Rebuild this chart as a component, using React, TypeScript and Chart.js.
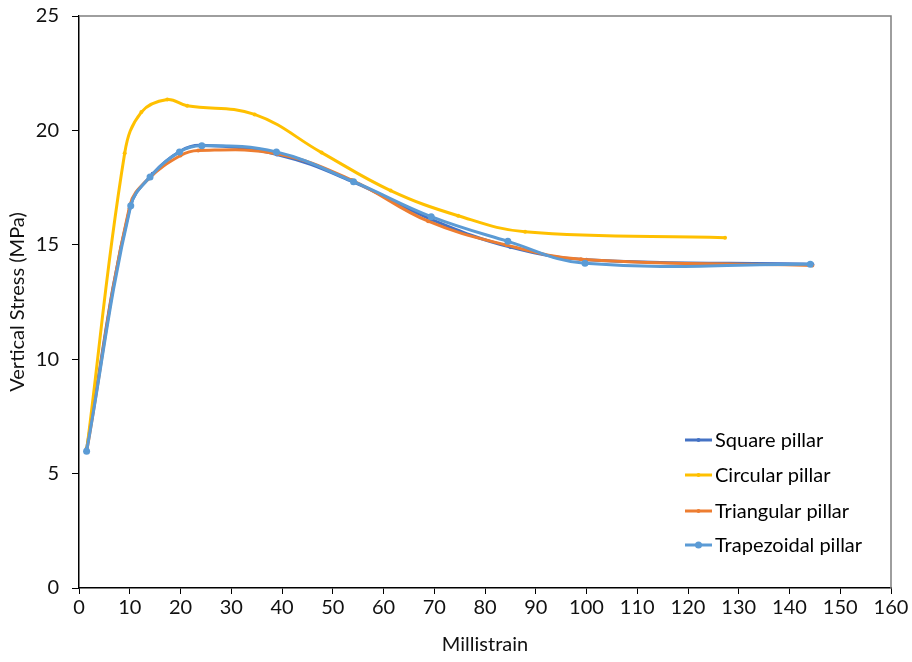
import React, { useEffect, useRef } from "react";
import { Chart, registerables } from "chart.js";

Chart.register(...registerables);

const squareX = [1.5, 10, 14.5, 20, 24, 39, 54, 69.5, 85, 100, 144.5];
const squareY = [6.1, 16.6, 18.1, 19.1, 19.35, 18.95, 17.75, 16.1, 14.9, 14.35, 14.15];

const circularX = [1.5, 9, 12.3, 17.4, 21.3, 34.6, 47.8, 61.4, 74.7, 87.9, 127.3];
const circularY = [6.0, 19.0, 20.8, 21.35, 21.08, 20.7, 19.03, 17.37, 16.27, 15.57, 15.31];

const triangularX = [1.5, 10, 13.8, 20, 23.5, 39, 53.7, 68.8, 84.2, 98.9, 144.5];
const triangularY = [5.95, 16.7, 17.9, 18.9, 19.12, 18.98, 17.83, 16.03, 14.99, 14.37, 14.1];

const trapezoidalX = [1.5, 10.2, 14, 19.8, 24.2, 38.9, 54.1, 69.4, 84.5, 99.7, 144.1];
const trapezoidalY = [5.98, 16.71, 17.96, 19.06, 19.33, 19.06, 17.76, 16.23, 15.15, 14.19, 14.15];

const seriesNames = ["Square pillar", "Circular pillar", "Triangular pillar", "Trapezoidal pillar"];
const seriesColors = ["#4472C4", "#FFC000", "#ED7D31", "#5B9BD5"];
const markerSizes = [2, 2, 2, 3.5];

const FONT = "Lato, 'Open Sans', sans-serif";
const FS = 20;

const toPoints = (xs: number[], ys: number[]) => xs.map((x, i) => ({ x, y: ys[i] }));

const legendPlugin = {
  id: "insideLegend",
  afterDraw(chart: any) {
    const ctx = chart.ctx;
    ctx.save();
    const x0 = 685;
    const x1 = 712;
    const rows = [440, 475, 511, 545];
    seriesNames.forEach((name, i) => {
      const y = rows[i];
      ctx.strokeStyle = seriesColors[i];
      ctx.lineWidth = 3;
      ctx.beginPath();
      ctx.moveTo(x0, y);
      ctx.lineTo(x1, y);
      ctx.stroke();
      ctx.fillStyle = seriesColors[i];
      ctx.beginPath();
      ctx.arc((x0 + x1) / 2, y, markerSizes[i], 0, Math.PI * 2);
      ctx.fill();
      ctx.fillStyle = "#000";
      ctx.font = `${FS}px ${FONT}`;
      ctx.textBaseline = "middle";
      ctx.textAlign = "left";
      ctx.fillText(name, x1 + 3, y + 1);
    });
    ctx.restore();
  },
};

const borderPlugin = {
  id: "boxBorder",
  beforeDatasetsDraw(chart: any) {
    const { ctx, chartArea } = chart;
    ctx.save();
    ctx.strokeStyle = "#7F7F7F";
    ctx.lineWidth = 1.5;
    ctx.beginPath();
    ctx.moveTo(chartArea.left, chartArea.top);
    ctx.lineTo(chartArea.right, chartArea.top);
    ctx.lineTo(chartArea.right, chartArea.bottom);
    ctx.stroke();
    ctx.restore();
  },
};

export default function App() {
  const ref = useRef<HTMLCanvasElement>(null);
  useEffect(() => {
    if (!ref.current) return;
    const allX = [squareX, circularX, triangularX, trapezoidalX];
    const allY = [squareY, circularY, triangularY, trapezoidalY];
    const orders = [3, 2, 1, 0];
    const chart = new Chart(ref.current, {
      type: "line",
      data: {
        datasets: seriesNames.map((name, i) => ({
          label: name,
          data: toPoints(allX[i], allY[i]),
          borderColor: seriesColors[i],
          backgroundColor: seriesColors[i],
          borderWidth: 3,
          pointRadius: markerSizes[i],
          pointBorderWidth: 0,
          pointHoverRadius: markerSizes[i],
          tension: 0.4,
          fill: false,
          order: orders[i],
        })),
      },
      options: {
        animation: false,
        responsive: false,
        maintainAspectRatio: false,
        events: [],
        layout: { padding: { top: 16, right: 21, left: 0, bottom: 0 } },
        plugins: {
          legend: { display: false },
          tooltip: { enabled: false },
        },
        scales: {
          x: {
            type: "linear",
            min: 0,
            max: 160,
            ticks: {
              stepSize: 10,
              color: "#111",
              font: { family: FONT, size: FS },
              padding: 2,
              maxRotation: 0,
            },
            grid: { drawOnChartArea: false, drawTicks: true, tickLength: 6, color: "#000" },
            border: { display: true, color: "#000", width: 1.5 },
            title: {
              display: true,
              text: "Millistrain",
              color: "#111",
              font: { family: FONT, size: FS },
              padding: { top: 0, bottom: 5 },
            },
            afterFit: (s: any) => {
              s.height = 74;
              s.paddingLeft = 0;
              s.paddingRight = 0;
            },
          },
          y: {
            type: "linear",
            min: 0,
            max: 25,
            ticks: {
              stepSize: 5,
              color: "#111",
              font: { family: FONT, size: FS },
              padding: 13,
            },
            grid: { drawOnChartArea: false, drawTicks: true, tickLength: 7, color: "#000" },
            border: { display: true, color: "#000", width: 1.5 },
            title: {
              display: true,
              text: "Vertical Stress (MPa)",
              color: "#111",
              font: { family: FONT, size: FS },
              padding: { top: 6, bottom: 0 },
            },
            afterFit: (s: any) => {
              s.width = 79;
              s.paddingTop = 0;
              s.paddingBottom = 0;
            },
          },
        },
      },
      plugins: [borderPlugin, legendPlugin],
    });
    return () => chart.destroy();
  }, []);
  return (
    <div style={{ position: "fixed", left: 0, top: 0, width: 912, height: 662, background: "#fff" }}>
      <canvas ref={ref} width={912} height={662} style={{ width: 912, height: 662 }} />
    </div>
  );
}
